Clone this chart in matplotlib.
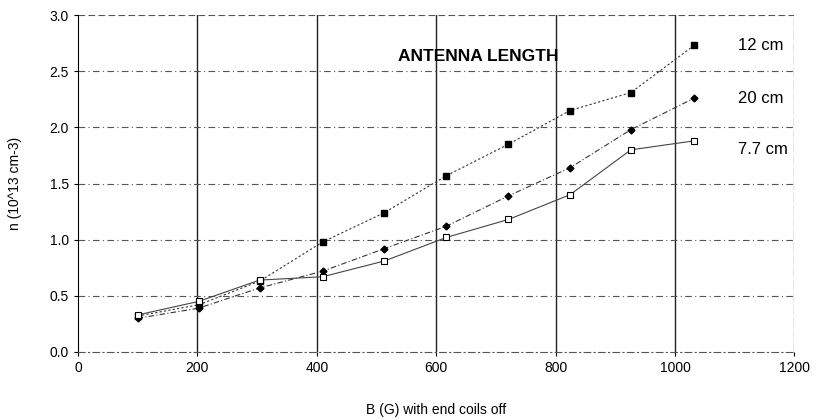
import numpy as np
import matplotlib
matplotlib.use("Agg")
import matplotlib.pyplot as plt

plt.rcParams['font.family'] = ['Liberation Sans', 'DejaVu Sans']

# data
b_field = [100, 202, 304, 410, 513, 617, 721, 824, 926, 1032]
n_12cm = [0.32, 0.42, 0.63, 0.98, 1.24, 1.57, 1.85, 2.15, 2.31, 2.73]
n_20cm = [0.30, 0.39, 0.57, 0.72, 0.92, 1.12, 1.39, 1.64, 1.98, 2.26]
n_77cm = [0.33, 0.45, 0.64, 0.67, 0.81, 1.02, 1.18, 1.40, 1.80, 1.88]
series_labels = ['12 cm', '20 cm', '7.7 cm']
x_ticks = [0, 200, 400, 600, 800, 1000, 1200]
y_ticks = [0.0, 0.5, 1.0, 1.5, 2.0, 2.5, 3.0]

fig = plt.figure(figsize=(8.16, 4.19), dpi=100)
ax = fig.add_axes([0.0956, 0.160, 0.878, 0.804])

# grid: solid verticals, dash-dot horizontals
for xv in x_ticks[1:-1]:
    ax.axvline(xv, color='#222222', lw=1.0, zorder=1)
ax.axvline(1200, color='#333333', lw=0.9, ls=(0, (8, 2)), zorder=1)
for yv in y_ticks[1:-1]:
    ax.axhline(yv, color='#555555', lw=0.8, ls=(0, (6, 3, 1, 3)), zorder=1)
ax.axhline(3.0, color='#555555', lw=0.8, ls=(0, (6, 3)), zorder=1)

ax.plot(b_field, n_12cm, ls=(0, (2, 2)), color='#333333', lw=0.8,
        marker='s', ms=5, mfc='black', mec='black', zorder=3)
ax.plot(b_field, n_20cm, ls=(0, (5, 2, 1, 2)), color='#333333', lw=0.8,
        marker='D', ms=3.5, mfc='black', mec='black', zorder=3)
ax.plot(b_field, n_77cm, ls='-', color='#444444', lw=0.8,
        marker='s', ms=5, mfc='white', mec='black', mew=0.8, zorder=3)

# series labels at line ends
for lab, ys in zip(series_labels, [n_12cm, n_20cm, n_77cm]):
    ax.text(1105, ys[-1] - (0.08 if lab == '7.7 cm' else 0.0), lab,
            fontsize=12, va='center', ha='left')
ax.text(670, 2.63, 'ANTENNA LENGTH', fontsize=12.5, fontweight='bold',
        ha='center', va='center')

ax.set_xlim(0, 1200)
ax.set_ylim(0, 3.0)
ax.set_xticks(x_ticks)
ax.set_yticks(y_ticks)
ax.set_yticklabels(['%.1f' % v for v in y_ticks])
ax.tick_params(labelsize=10, length=3, direction='out')
for side in ['top', 'right']:
    ax.spines[side].set_visible(False)
ax.spines['bottom'].set_linestyle((0, (6, 3, 1, 3)))
ax.spines['bottom'].set_color('#555555')

ax.set_xlabel('B (G) with end coils off', fontsize=10, labelpad=20)
ax.set_ylabel('n (10^13 cm-3)', fontsize=10, labelpad=20)

fig.savefig('out.png', dpi=100)
